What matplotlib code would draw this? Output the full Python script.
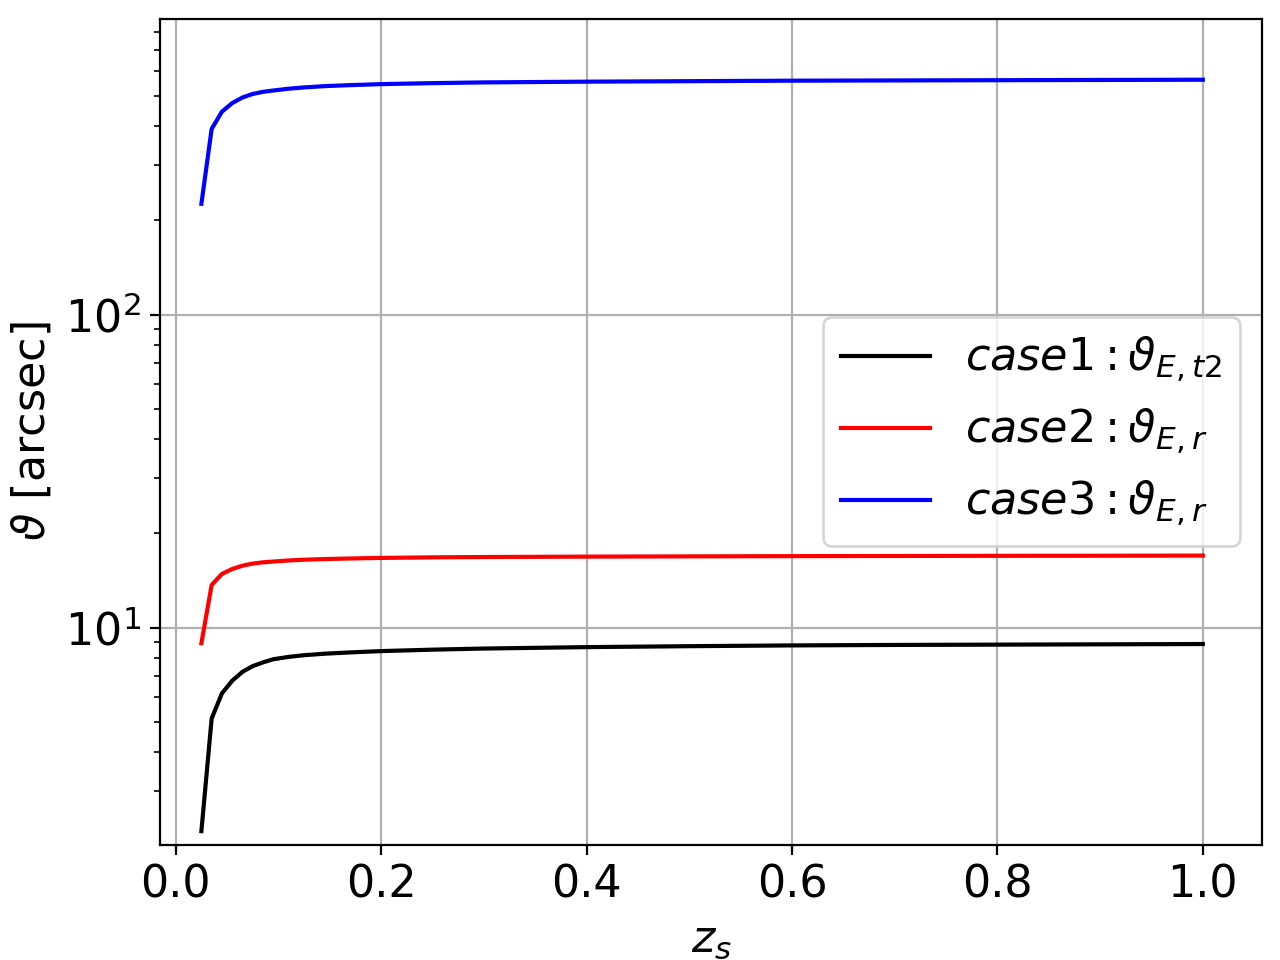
import matplotlib
matplotlib.use("Agg")
import matplotlib.pyplot as plt

z_s = [0.025, 0.035, 0.045, 0.055, 0.065, 0.075, 0.085, 0.095, 0.11, 0.125,
       0.145, 0.17, 0.2, 0.25, 0.3, 0.4, 0.5, 0.6, 0.7, 0.8, 0.9, 1.0]

case1_theta = [2.24, 5.13, 6.17, 6.77, 7.23, 7.54, 7.75, 7.93, 8.07, 8.17,
               8.26, 8.34, 8.42, 8.51, 8.58, 8.67, 8.73, 8.78, 8.81, 8.83, 8.85, 8.87]
case2_theta = [8.92, 13.69, 14.85, 15.40, 15.78, 16.03, 16.18, 16.27, 16.40, 16.49,
               16.57, 16.64, 16.71, 16.78, 16.82, 16.87, 16.90, 16.93, 16.95, 16.97, 16.98, 17.0]
case3_theta = [226, 392, 445, 474, 494, 507, 515, 520, 527, 532,
               537, 541, 545, 549, 552, 555, 557, 559, 560, 561, 562, 563]

labels = [r'$case1: \vartheta_{E,t2}$', r'$case2: \vartheta_{E,r}$', r'$case3: \vartheta_{E,r}$']
colors = ['black', 'red', 'blue']

plt.rcParams['font.size'] = 16

fig, ax = plt.subplots(figsize=(6.4, 4.8), dpi=200)
for y, c, lab in zip([case1_theta, case2_theta, case3_theta], colors, labels):
    ax.plot(z_s, y, color=c, lw=1.5, label=lab)

ax.set_yscale('log')
ax.set_xlim(-0.0153, 1.0577)
ax.set_ylim(2.03, 883)
ax.grid(True)
ax.set_xlabel(r'$z_s$')
ax.set_ylabel(r'$\vartheta$ [arcsec]')
ax.legend(loc='center right', fontsize=16)

fig.subplots_adjust(left=0.125, right=0.986, top=0.9807, bottom=0.1203)
fig.savefig('out.png', dpi=200)
